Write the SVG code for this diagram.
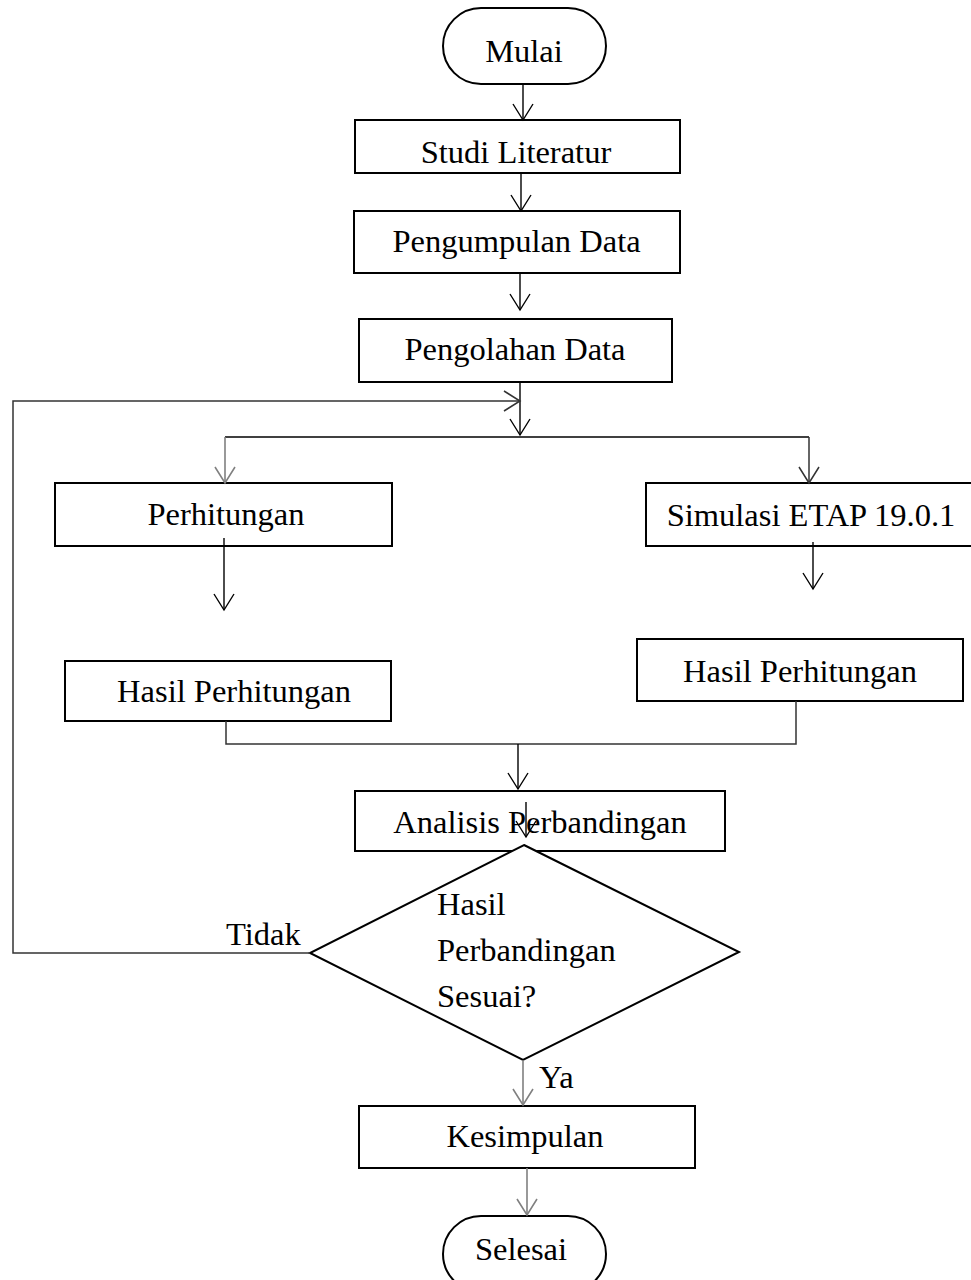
<svg xmlns="http://www.w3.org/2000/svg" width="971" height="1280" viewBox="0 0 971 1280">
<style>
.box{fill:#fff;stroke:#000;stroke-width:2}
.t{font-family:"Liberation Serif","Times New Roman",serif;font-size:32.5px;fill:#000}
.c{text-anchor:middle}
.ln{fill:none;stroke:#000;stroke-width:1.4}
.dg{fill:none;stroke:#333;stroke-width:1.5}
.gr{fill:none;stroke:#808080;stroke-width:1.6}
</style>
<defs>
<marker id="ah" markerUnits="userSpaceOnUse" markerWidth="40" markerHeight="40" viewBox="-20 -20 40 40" refX="0" refY="0" orient="auto" overflow="visible">
<path d="M-16,-10 L0,0 L-16,10" fill="none" stroke="#000" stroke-width="1.4"/>
</marker>
<marker id="ahg" markerUnits="userSpaceOnUse" markerWidth="40" markerHeight="40" viewBox="-20 -20 40 40" refX="0" refY="0" orient="auto" overflow="visible">
<path d="M-16,-10 L0,0 L-16,10" fill="none" stroke="#808080" stroke-width="1.6"/>
</marker>
<marker id="ahd" markerUnits="userSpaceOnUse" markerWidth="40" markerHeight="40" viewBox="-20 -20 40 40" refX="0" refY="0" orient="auto" overflow="visible">
<path d="M-16,-10 L0,0 L-16,10" fill="none" stroke="#333" stroke-width="1.5"/>
</marker>
</defs>
<rect width="971" height="1280" fill="#fff"/>

<g id="mulai">
<rect class="box" x="443" y="8" width="163" height="76" rx="38" ry="38"/>
<text class="t c" x="524" y="62">Mulai</text>
</g>
<g id="studi">
<rect class="box" x="355" y="120" width="325" height="53"/>
<text class="t c" x="516" y="163">Studi Literatur</text>
</g>
<g id="pengumpulan">
<rect class="box" x="354" y="211" width="326" height="62"/>
<text class="t c" x="516.5" y="252">Pengumpulan Data</text>
</g>
<g id="pengolahan">
<rect class="box" x="359" y="319" width="313" height="63"/>
<text class="t c" x="515" y="360">Pengolahan Data</text>
</g>
<g id="perhitungan">
<rect class="box" x="55" y="483" width="337" height="63"/>
<text class="t c" x="226" y="525">Perhitungan</text>
</g>
<g id="simulasi">
<rect class="box" x="646" y="483" width="330" height="63"/>
<text class="t c" x="811" y="526">Simulasi ETAP 19.0.1</text>
</g>
<g id="hasil-kiri">
<rect class="box" x="65" y="661" width="326" height="60"/>
<text class="t c" x="234" y="702">Hasil Perhitungan</text>
</g>
<g id="hasil-kanan">
<rect class="box" x="637" y="639" width="326" height="62"/>
<text class="t c" x="800" y="682">Hasil Perhitungan</text>
</g>
<g id="analisis">
<rect class="box" x="355" y="791" width="370" height="60"/>
<text class="t c" x="540" y="833">Analisis Perbandingan</text>
</g>
<g id="keputusan">
<polygon class="box" points="524,845 739,952 523,1060 310,953"/>
<text class="t" x="437" y="915">Hasil</text>
<text class="t" x="437" y="961">Perbandingan</text>
<text class="t" x="437" y="1007">Sesuai?</text>
</g>
<g id="kesimpulan">
<rect class="box" x="359" y="1106" width="336" height="62"/>
<text class="t c" x="525" y="1147">Kesimpulan</text>
</g>
<g id="selesai">
<rect class="box" x="443" y="1216" width="163" height="76" rx="38" ry="38"/>
<text class="t c" x="521" y="1260">Selesai</text>
</g>

<g id="connectors">
<line class="ln" x1="523" y1="84" x2="523" y2="120" marker-end="url(#ah)"/>
<line class="ln" x1="521" y1="173" x2="521" y2="211" marker-end="url(#ah)"/>
<line class="ln" x1="520" y1="273" x2="520" y2="310" marker-end="url(#ah)"/>
<line class="ln" x1="520" y1="382" x2="520" y2="435" marker-end="url(#ah)"/>
<polyline class="dg" points="310,953 13,953 13,401 520,401" marker-end="url(#ahd)"/>
<line class="ln" x1="225" y1="437" x2="809" y2="437"/>
<line class="gr" x1="225" y1="437" x2="225" y2="483" marker-end="url(#ahg)"/>
<line class="dg" x1="809" y1="437" x2="809" y2="483" marker-end="url(#ahd)"/>
<line class="ln" x1="224" y1="538" x2="224" y2="610" marker-end="url(#ah)"/>
<line class="ln" x1="813" y1="542" x2="813" y2="589" marker-end="url(#ah)"/>
<polyline class="dg" points="226,721 226,744 796,744 796,701"/>
<line class="ln" x1="518" y1="744" x2="518" y2="789" marker-end="url(#ah)"/>
<line class="ln" x1="526" y1="802" x2="526" y2="837" marker-end="url(#ah)"/>
<line class="gr" x1="523" y1="1060" x2="523" y2="1105" marker-end="url(#ahg)"/>
<line class="gr" x1="527" y1="1168" x2="527" y2="1215" marker-end="url(#ahg)"/>
<text class="t" x="226" y="945">Tidak</text>
<text class="t" x="539" y="1088">Ya</text>
</g>
</svg>
